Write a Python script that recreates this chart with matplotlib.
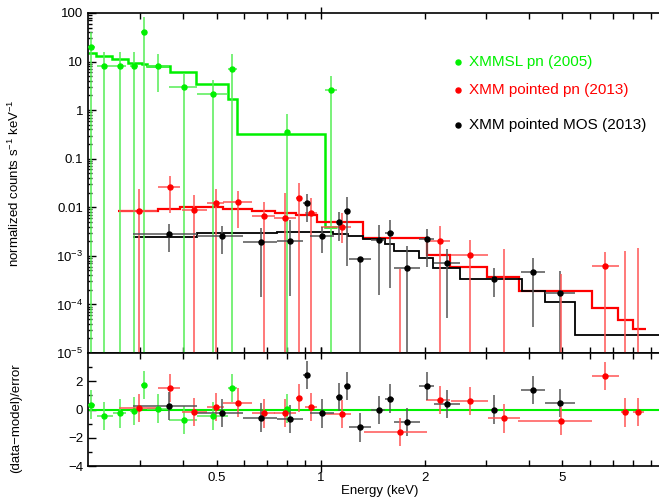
import matplotlib
matplotlib.use('Agg')
import matplotlib.pyplot as plt
import numpy as np
from matplotlib.ticker import FixedLocator, FixedFormatter, NullFormatter

plt.rcParams['font.family'] = ['Liberation Sans', 'DejaVu Sans']
plt.rcParams['mathtext.fontset'] = 'custom'
plt.rcParams['mathtext.rm'] = 'Liberation Sans'

GREEN = '#00f000'
RED = '#ff0000'
BLACK = '#000000'

# ---- XMMSL pn (2005) ----
green_e   = [0.217, 0.2365, 0.2626, 0.289, 0.308, 0.339, 0.401, 0.489, 0.553, 0.80, 1.07]
green_elo = [0.212, 0.225, 0.251, 0.280, 0.301, 0.315, 0.364, 0.4375, 0.540, 0.790, 1.031]
green_ehi = [0.222, 0.251, 0.274, 0.296, 0.315, 0.364, 0.4375, 0.540, 0.571, 0.815, 1.113]
green_y   = [20.2, 8.2, 8.2, 8.2, 41.0, 8.2, 2.95, 2.12, 7.0, 0.35, 2.6]
green_yhi = [40.6, 16.0, 16.0, 16.0, 84.0, 14.1, 5.7, 4.2, 14.1, 0.83, 5.1]
green_ylo = [0, 0, 0, 0, 0, 2.4, 0, 0, 0, 0, 0]
green_res = [0.35, -0.47, -0.28, -0.12, 1.76, 0.07, -0.75, -0.47, 1.52, 0.07, np.nan]
green_edges = [0.212, 0.2237, 0.248, 0.276, 0.303, 0.314, 0.365, 0.4355, 0.540, 0.571, 1.031, 1.113]
green_model = [14.8, 13.2, 11.1, 9.5, 8.8, 8.1, 6.2, 3.4, 1.72, 0.32, 0.004]

# ---- XMM pointed pn (2013) ----
red_e   = [0.2985, 0.365, 0.429, 0.497, 0.577, 0.685, 0.788, 0.867, 0.937, 1.154, 2.21, 2.70, 6.65]
red_elo = [0.260, 0.339, 0.396, 0.467, 0.522, 0.631, 0.730, 0.848, 0.903, 1.00, 2.02, 2.38, 6.09]
red_ehi = [0.336, 0.391, 0.467, 0.526, 0.631, 0.737, 0.850, 0.872, 0.976, 1.22, 2.37, 3.04, 7.30]
red_y   = [0.0085, 0.0262, 0.0088, 0.0121, 0.0129, 0.0065, 0.0061, 0.0155, 0.0078, 0.00388, 0.00205, 0.00104, 0.00061]
red_yhi = [0.0238, 0.0447, 0.0179, 0.0238, 0.0219, 0.013, 0.0194, 0.031, 0.0153, 0.0075, 0.0041, 0.0021, 0.00122]
red_ylo = [0, 0.0078, 0, 0, 0.0037, 0, 0, 0, 0, 0.0018, 0, 0, 0]
red_res = [0.11, 1.52, -0.17, 0.18, 0.49, -0.28, -0.24, 0.82, 0.18, -0.33, 0.65, 0.61, 2.35]
# bins with negative net flux: only the upper error shows
red_ul_e   = [1.69, 3.40, 4.95, 7.6, 8.3]
red_ul_elo = [1.33, 3.05, 3.73, 7.4, 8.0]
red_ul_ehi = [2.03, 3.76, 6.10, 7.8, 8.6]
red_ul_top = [0.00054, 0.00138, 0.00042, 0.00125, 0.00143]
red_ul_res = [-1.58, -0.63, -0.80, -0.21, -0.17]
red_edges = [0.2596, 0.339, 0.391, 0.522, 0.631, 0.737, 0.848, 0.973, 1.328, 2.026,
             2.366, 3.03, 3.75, 6.08, 7.23, 7.99, 8.72]
red_model = [0.0083, 0.0094, 0.0103, 0.0091, 0.0084, 0.0077, 0.0069, 0.0049, 0.00237,
             0.00104, 0.00058, 0.00037, 0.00019, 8.3e-5, 4.8e-5, 3.1e-5]

# ---- XMM pointed MOS (2013) ----
black_e   = [0.364, 0.517, 0.672, 0.815, 0.91, 1.007, 1.13, 1.19, 1.30, 1.47, 1.586, 1.78, 2.026, 2.32, 3.18, 4.12, 4.93]
black_elo = [0.287, 0.4375, 0.595, 0.745, 0.89, 0.93, 1.11, 1.17, 1.21, 1.40, 1.535, 1.63, 1.93, 2.12, 3.10, 3.80, 4.46]
black_ehi = [0.4375, 0.595, 0.745, 0.89, 0.93, 1.09, 1.15, 1.21, 1.40, 1.535, 1.63, 1.94, 2.12, 2.53, 3.25, 4.46, 5.44]
black_y   = [0.00278, 0.0026, 0.00195, 0.00202, 0.0121, 0.0026, 0.0049, 0.0084, 0.00087, 0.00212,
             0.00295, 0.00057, 0.0022, 0.00072, 0.00033, 0.00047, 0.000174]
black_yhi = [0.00447, 0.0041, 0.0038, 0.0055, 0.0188, 0.0040, 0.0079, 0.0160, 0.00092, 0.0043,
             0.0056, 0.0016, 0.0035, 0.00138, 0.00055, 0.00089, 0.00049]
black_ylo = [0.00118, 0.00109, 0.000144, 0.000148, 0.00505, 0.00113, 0.00205, 0.00063, 0, 0.000156,
             0.000215, 0, 0.0006, 5.3e-5, 0.00014, 3.5e-5, 0]
black_res = [0.25, -0.24, -0.57, -0.68, 2.46, -0.28, 0.89, 1.66, -1.27, -0.05, 0.77, -0.87, 1.64, 0.37, 0.0, 1.36, 0.46]
black_edges = [0.287, 0.4375, 0.747, 0.931, 1.0875, 1.202, 1.328, 1.535, 1.633, 1.93, 2.117, 2.53,
               3.815, 4.457, 5.44, 9.6]
black_model = [0.0024, 0.0030, 0.00314, 0.00305, 0.00282, 0.0026, 0.00219, 0.00173, 0.00126,
               0.00089, 0.00055, 0.00033, 0.00019, 0.000114, 2.3e-5]

FLOOR = 1e-9  # lower error reaching below the plot

fig = plt.figure(figsize=(6.59, 4.99), dpi=100)
ax = fig.add_axes([0.1335, 0.2926, 0.8665, 0.6814])
axr = fig.add_axes([0.1335, 0.0661, 0.8665, 0.2265], sharex=ax)


def draw(e, elo, ehi, y, ylo, yhi, res, col, ecol):
    e = np.array(e); y = np.array(y)
    ylo = np.where(np.array(ylo) <= 0, FLOOR, ylo)
    xerr = [e - np.array(elo), np.array(ehi) - e]
    ax.errorbar(e, y, xerr=xerr, yerr=[y - ylo, np.array(yhi) - y], fmt='o', ms=3.6,
                color=col, ecolor=ecol, elinewidth=1.1, capsize=0, zorder=3)
    axr.errorbar(e, res, xerr=xerr, yerr=1.0, fmt='o', ms=3.6,
                 color=col, ecolor=ecol, elinewidth=1.1, capsize=0, zorder=3)


# models
ax.stairs(green_model, green_edges, color=GREEN, lw=1.8, baseline=None, zorder=2)
ax.stairs(red_model, red_edges, color=RED, lw=1.6, baseline=None, zorder=2)
ax.stairs(black_model, black_edges, color=BLACK, lw=1.3, baseline=None, zorder=2)

draw(green_e, green_elo, green_ehi, green_y, green_ylo, green_yhi, green_res, GREEN, '#55ee55')
draw(red_e, red_elo, red_ehi, red_y, red_ylo, red_yhi, red_res, RED, '#ff5555')
draw(black_e, black_elo, black_ehi, black_y, black_ylo, black_yhi, black_res, BLACK, '#555555')

ax.vlines(red_ul_e, FLOOR, red_ul_top, color='#ff5555', lw=1.1, zorder=3)
ul_e = np.array(red_ul_e)
axr.errorbar(ul_e, red_ul_res, xerr=[ul_e - np.array(red_ul_elo), np.array(red_ul_ehi) - ul_e],
             yerr=1.0, fmt='o', ms=3.6, color=RED, ecolor='#ff5555', elinewidth=1.1, capsize=0, zorder=3)

axr.axhline(0, color=GREEN, lw=1.5, zorder=2)

# axes
ax.set_xscale('log')
ax.set_yscale('log')
ax.set_xlim(0.212, 9.52)
ax.set_ylim(1e-5, 100)
axr.set_ylim(-4, 4)

for a in (ax, axr):
    a.spines['right'].set_visible(False)
    a.tick_params(which='both', direction='in', top=True, right=False, labelsize=9.5, width=1)
    a.tick_params(which='major', axis='y', length=6)
    a.tick_params(which='minor', axis='y', length=3)
    a.tick_params(which='minor', axis='x', length=4, pad=4.5)
    a.tick_params(which='major', axis='x', length=9, direction='inout', pad=0)
    for s in a.spines.values():
        s.set_linewidth(1.2)

yt = [1e2, 1e1, 1, 0.1, 0.01, 1e-3, 1e-4, 1e-5]
ytl = ['100', '10', '1', '0.1', '0.01', r'$\mathregular{10^{-3}}$', r'$\mathregular{10^{-4}}$', r'$\mathregular{10^{-5}}$']
ax.yaxis.set_major_locator(FixedLocator(yt))
ax.yaxis.set_major_formatter(FixedFormatter(ytl))
ax.yaxis.set_minor_locator(FixedLocator([m * 10.0 ** k for k in range(-5, 2) for m in range(2, 10)]))
ax.yaxis.set_minor_formatter(NullFormatter())

ax.xaxis.set_major_locator(FixedLocator([1]))
ax.xaxis.set_minor_locator(FixedLocator([0.3, 0.4, 0.5, 0.6, 0.7, 0.8, 0.9, 2, 3, 4, 5, 6, 7, 8, 9]))
plt.setp(ax.get_xticklabels(which='both'), visible=False)
axr.xaxis.set_major_formatter(FixedFormatter(['1']))
axr.xaxis.set_minor_formatter(FixedFormatter(['', '', '0.5', '', '', '', '', '2', '', '', '5', '', '', '', '']))
axr.tick_params(which='minor', axis='x', labelsize=9.5)

axr.yaxis.set_major_locator(FixedLocator([-4, -2, 0, 2]))
axr.yaxis.set_minor_locator(FixedLocator([-3, -1, 1, 3]))
axr.set_yticklabels(['\u22124', '\u22122', '0', '2'])

ax.set_ylabel(r'normalized counts s$\mathregular{^{-1}}$ keV$\mathregular{^{-1}}$', fontsize=9.5)
axr.set_ylabel('(data\u2212model)/error', fontsize=9.5)
ax.yaxis.set_label_coords(-0.116, 0.5)
axr.yaxis.set_label_coords(-0.116, 0.42)
axr.set_xlabel('Energy (keV)', fontsize=9.5)
axr.xaxis.set_label_coords(0.51, -0.17)

# legend
leg = [('XMMSL pn (2005)', GREEN, 62), ('XMM pointed pn (2013)', RED, 90), ('XMM pointed MOS (2013)', BLACK, 125)]
for name, col, py in leg:
    fy = 1 - py / 499.0
    fig.lines.append(plt.Line2D([458 / 659.0], [fy], marker='o', ms=3.6, color=col,
                                transform=fig.transFigure, figure=fig))
    fig.text(469 / 659.0, fy, name, color=col, fontsize=11, va='center', ha='left')

fig.savefig('out.png', dpi=100)
